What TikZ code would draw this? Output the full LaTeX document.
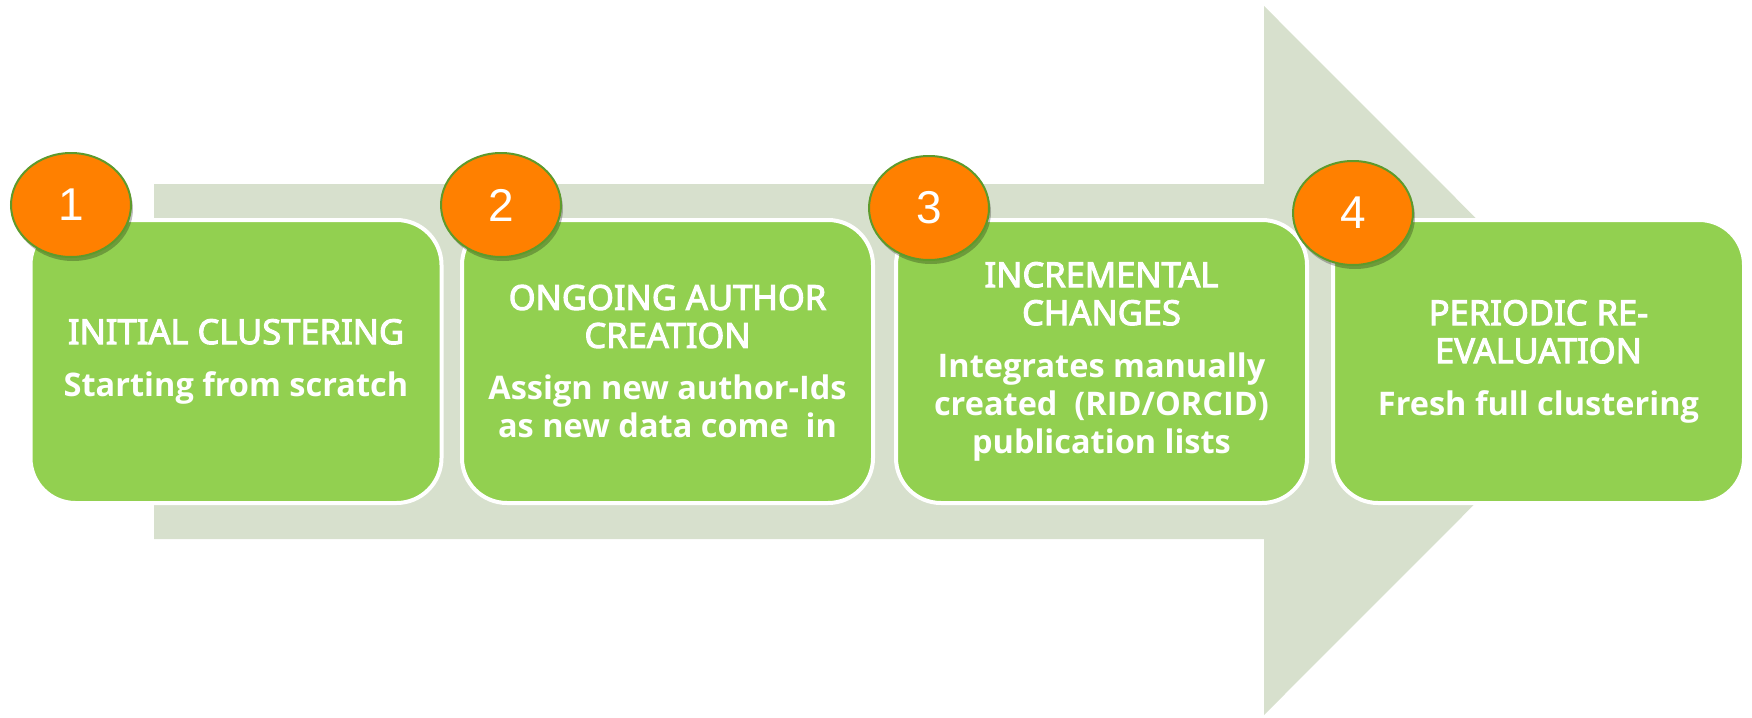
\documentclass[tikz,border=0pt]{standalone}
\usepackage{fontspec}
\setmainfont{Noto Sans}
\newfontfamily\titlefont{Noto Sans}[FakeBold=3]
\newfontfamily\subfont{Open Sans}
\newfontfamily\numfont{Liberation Sans}
\newcommand{\subtxt}[1]{{\subfont\bfseries\fontsize{32.5}{38}\selectfont #1}}
\usetikzlibrary{shapes.geometric,shadows}
\definecolor{arrowbg}{HTML}{D7E0CD}
\definecolor{boxgreen}{HTML}{92D050}
\definecolor{numorange}{HTML}{FF8000}
\definecolor{numedge}{HTML}{5E9A2C}
\begin{document}
\begin{tikzpicture}[x=1pt,y=-1pt,
  stepbox/.style={rectangle, rounded corners=45pt, fill=boxgreen, draw=white,
    line width=4pt, minimum width=411pt, minimum height=283pt, text=white,
    align=center, inner sep=0pt, font=\titlefont\fontsize{34.5}{38}\selectfont},
  numdisc/.style={ellipse, fill=numorange, draw=numedge, line width=2pt,
    minimum width=120pt, minimum height=104pt, inner sep=0pt, text=white,
    font=\numfont\fontsize{46}{46}\selectfont,
    drop shadow={shadow xshift=2pt, shadow yshift=-4pt, opacity=0.25, fill=black}},
  bigarrow/.style={fill=arrowbg}
]
\useasboundingbox (0,0) rectangle (1752,717);
% background arrow
\fill[bigarrow] (154,184) -- (1264,184) -- (1264,6) -- (1618,360.5) -- (1264,715)
  -- (1264,539) -- (154,539) -- cycle;
% step boxes
\node[stepbox] (b1) at (236,361.5) {INITIAL CLUSTERING\\[14pt]\subtxt{Starting from scratch}};
\node[stepbox] (b2) at (667.5,361.5) {ONGOING AUTHOR\\CREATION\\[14pt]\subtxt{Assign new author-Ids}\\\subtxt{as new data come\ \ in}};
\node[stepbox] (b3) at (1101.5,361.5) {INCREMENTAL\\CHANGES\\[14pt]\subtxt{Integrates manually}\\\subtxt{created\ \ (RID/ORCID)}\\\subtxt{publication lists}};
\node[stepbox] (b4) at (1538.5,361.5) {PERIODIC RE-\\EVALUATION\\[14pt]\subtxt{Fresh full clustering}};
% number discs
\node[numdisc] (n1) at (71,205) {1};
\node[numdisc] (n2) at (501,205) {2};
\node[numdisc] (n3) at (929,208) {3};
\node[numdisc] (n4) at (1353,213) {4};
\end{tikzpicture}
\end{document}
